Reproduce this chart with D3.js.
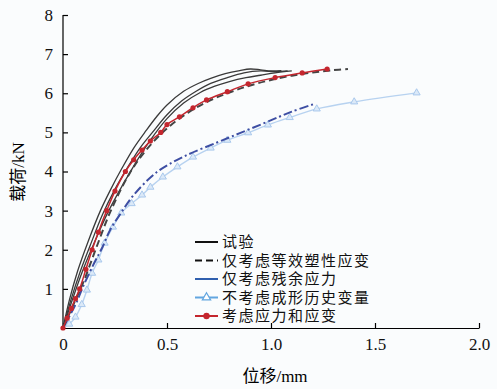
<!DOCTYPE html>
<html>
<head>
<meta charset="utf-8">
<script src="https://cdn.jsdelivr.net/npm/d3@7"></script>
<style>
  body { margin: 0; background: #fafcfd; }
  svg { display: block; }
</style>
</head>
<body>
<svg id="chart" width="497" height="389"></svg>
<script>
// experimental curves (试验), three specimens
const testA_x = [0, 0.03, 0.07, 0.12, 0.18, 0.23, 0.28, 0.34, 0.40, 0.45, 0.50, 0.58, 0.65, 0.71, 0.78, 0.85, 0.90, 0.95, 1.00, 1.05];
const testA_y = [0, 0.7, 1.45, 2.2, 3.0, 3.55, 4.05, 4.6, 5.05, 5.4, 5.7, 6.05, 6.25, 6.38, 6.5, 6.58, 6.62, 6.6, 6.57, 6.58];
const testB_x = [0, 0.04, 0.08, 0.13, 0.19, 0.25, 0.31, 0.37, 0.43, 0.50, 0.57, 0.64, 0.71, 0.79, 0.87, 0.95, 1.02, 1.08];
const testB_y = [0, 0.75, 1.4, 2.1, 2.9, 3.55, 4.1, 4.6, 5.0, 5.45, 5.8, 6.05, 6.25, 6.4, 6.52, 6.57, 6.55, 6.57];
const testC_x = [0, 0.05, 0.09, 0.14, 0.22, 0.33, 0.42, 0.50, 0.58, 0.66, 0.73, 0.80, 0.88, 0.95, 1.02, 1.10];
const testC_y = [0, 0.8, 1.4, 2.05, 3.0, 4.05, 4.8, 5.35, 5.75, 6.02, 6.18, 6.3, 6.4, 6.46, 6.52, 6.57];

// 仅考虑等效塑性应变
const plastic_x = [0, 0.05, 0.10, 0.16, 0.23, 0.32, 0.40, 0.50, 0.60, 0.70, 0.80, 0.90, 1.00, 1.10, 1.20, 1.30, 1.37];
const plastic_y = [0, 0.6, 1.2, 2.05, 3.0, 3.95, 4.55, 5.1, 5.5, 5.8, 6.02, 6.2, 6.34, 6.45, 6.53, 6.59, 6.62];

// 仅考虑残余应力
const residual_x = [0, 0.06, 0.10, 0.15, 0.19, 0.226, 0.28, 0.34, 0.45, 0.58, 0.74, 0.85, 0.96, 1.04, 1.10, 1.21];
const residual_y = [0, 0.6, 1.1, 1.66, 2.07, 2.5, 2.95, 3.4, 3.98, 4.38, 4.74, 4.98, 5.22, 5.4, 5.53, 5.73];

// 不考虑成形历史变量
const nohist_x = [0, 0.03, 0.06, 0.09, 0.115, 0.14, 0.17, 0.20, 0.24, 0.28, 0.33, 0.38, 0.42, 0.48, 0.55, 0.625, 0.71, 0.79, 0.89, 0.985, 1.09, 1.22, 1.40, 1.70];
const nohist_y = [0, 0.1, 0.28, 0.6, 0.97, 1.4, 1.74, 2.17, 2.58, 2.94, 3.18, 3.4, 3.6, 3.86, 4.12, 4.37, 4.6, 4.8, 4.99, 5.19, 5.38, 5.6, 5.78, 6.01];

// 考虑应力和应变
const both_x = [0, 0.02, 0.04, 0.06, 0.08, 0.11, 0.14, 0.17, 0.21, 0.25, 0.30, 0.34, 0.38, 0.42, 0.47, 0.50, 0.56, 0.625, 0.69, 0.79, 0.89, 1.02, 1.15, 1.27];
const both_y = [0, 0.25, 0.5, 0.75, 1.0, 1.5, 2.0, 2.45, 3.0, 3.5, 4.0, 4.3, 4.55, 4.78, 5.0, 5.2, 5.4, 5.63, 5.83, 6.04, 6.24, 6.4, 6.52, 6.62];

const xTicks = [0, 0.5, 1.0, 1.5, 2.0];
const xTickLabels = ["0", "0.5", "1.0", "1.5", "2.0"];
const yTicks = [1, 2, 3, 4, 5, 6, 7, 8];

const legendLabels = ["试验", "仅考虑等效塑性应变", "仅考虑残余应力", "不考虑成形历史变量", "考虑应力和应变"];

function zip(xs, ys) { return xs.map((v, i) => [v, ys[i]]); }

const serif = "'Liberation Serif', 'Times New Roman', 'Noto Sans CJK SC', serif";

var margin = { top: 15, left: 63, right: 18, bottom: 61 },
    width = 497 - margin.left - margin.right,
    height = 389 - margin.top - margin.bottom;

var svg = d3.select("#chart");
var g = svg.append("g").attr("transform", "translate(" + margin.left + "," + margin.top + ")");

var x = d3.scaleLinear().domain([0, 2]).range([0, width]);
var y = d3.scaleLinear().domain([0, 8]).range([height, 0]);

// axes (ticks pointing inward)
var xAxis = g.append("g")
  .attr("transform", "translate(0," + height + ")")
  .call(d3.axisBottom(x).tickValues(xTicks).tickFormat((d, i) => xTickLabels[i]).tickSizeInner(-5).tickSizeOuter(0).tickPadding(10));
var yAxis = g.append("g")
  .call(d3.axisLeft(y).tickValues(yTicks).tickSizeInner(-5).tickSizeOuter(0).tickPadding(10));
[xAxis, yAxis].forEach(a => {
  a.select(".domain").attr("stroke", "#000").attr("stroke-width", 1.2);
  a.selectAll(".tick line").attr("stroke", "#000").attr("stroke-width", 1.2);
  a.selectAll(".tick text").attr("fill", "#111")
    .style("font-family", serif).style("font-size", "17px");
});
yAxis.select(".domain").attr("d", "M0," + height + "V0");

var smooth = d3.line().x(d => x(d[0])).y(d => y(d[1])).curve(d3.curveCatmullRom.alpha(0.5));

// experimental curves
[[testA_x, testA_y], [testB_x, testB_y], [testC_x, testC_y]].forEach(c => {
  g.append("path").datum(zip(c[0], c[1]))
    .attr("d", smooth).attr("fill", "none")
    .attr("stroke", "#3a3a3a").attr("stroke-width", 1.3);
});

// light blue triangles
var nohist = zip(nohist_x, nohist_y);
g.append("path").datum(nohist).attr("d", smooth).attr("fill", "none")
  .attr("stroke", "#b7d2f0").attr("stroke-width", 1.4);
var tri = d3.symbol().type(d3.symbolTriangle).size(22);
g.selectAll(".tri").data(nohist.slice(1)).enter().append("path")
  .attr("class", "tri")
  .attr("transform", d => "translate(" + x(d[0]) + "," + y(d[1]) + ")")
  .attr("d", tri).attr("fill", "#dbe9f8").attr("stroke", "#a9c8ec").attr("stroke-width", 1);

// residual stress only (dash-dot)
g.append("path").datum(zip(residual_x, residual_y)).attr("d", smooth).attr("fill", "none")
  .attr("stroke", "#3d4ea3").attr("stroke-width", 2).attr("stroke-dasharray", "9,3,2,3");

// plastic strain only (dashed)
g.append("path").datum(zip(plastic_x, plastic_y)).attr("d", smooth).attr("fill", "none")
  .attr("stroke", "#444").attr("stroke-width", 2).attr("stroke-dasharray", "7,4");

// both (red, dots)
var both = zip(both_x, both_y);
g.append("path").datum(both).attr("d", smooth).attr("fill", "none")
  .attr("stroke", "#c4262e").attr("stroke-width", 1.5);
g.selectAll(".dot").data(both).enter().append("circle")
  .attr("class", "dot")
  .attr("cx", d => x(d[0])).attr("cy", d => y(d[1])).attr("r", 2.6)
  .attr("fill", "#c4262e");

// axis titles
svg.append("text")
  .attr("x", 275).attr("y", 382)
  .attr("text-anchor", "middle")
  .style("font-family", serif)
  .style("font-size", "17px")
  .text("位移/mm");
svg.append("text")
  .attr("transform", "translate(24,172) rotate(-90)")
  .attr("text-anchor", "middle")
  .style("font-family", serif)
  .style("font-size", "17px")
  .text("载荷/kN");

// legend
var legendStyles = [
  { stroke: "#111", dash: null, marker: null },
  { stroke: "#111", dash: "7,4", marker: null },
  { stroke: "#2f5fae", dash: null, marker: null },
  { stroke: "#62a6e0", dash: null, marker: "tri" },
  { stroke: "#c4262e", dash: null, marker: "dot" }
];
var legend = svg.append("g").attr("transform", "translate(195,242)");
legendLabels.forEach((lab, i) => {
  var row = legend.append("g").attr("transform", "translate(0," + (i * 18.5) + ")");
  var s = legendStyles[i];
  row.append("line").attr("x1", 0).attr("x2", 23).attr("y1", 0).attr("y2", 0)
    .attr("stroke", s.stroke).attr("stroke-width", 2)
    .attr("stroke-dasharray", s.dash);
  if (s.marker == "tri") {
    row.append("path").attr("transform", "translate(11.5,0)")
      .attr("d", d3.symbol().type(d3.symbolTriangle).size(30))
      .attr("fill", "#fff").attr("stroke", "#62a6e0").attr("stroke-width", 1.2);
  }
  if (s.marker == "dot") {
    row.append("circle").attr("cx", 11.5).attr("cy", 0).attr("r", 3.2).attr("fill", "#c4262e");
  }
  row.append("text").attr("x", 27).attr("y", 0).attr("dy", "0.36em")
    .style("font-family", "'Noto Sans CJK SC', sans-serif")
    .style("font-size", "15px")
    .style("letter-spacing", "1.5px")
    .attr("fill", "#111")
    .text(lab);
});
</script>
</body>
</html>
